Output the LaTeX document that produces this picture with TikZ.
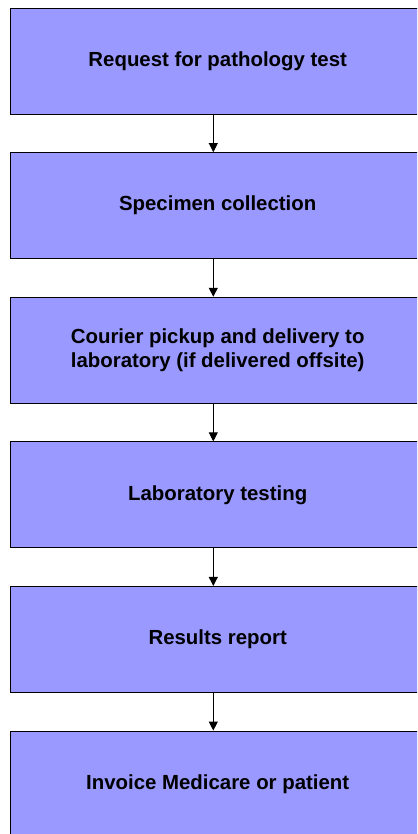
\documentclass[tikz,border=0pt]{standalone}
\usepackage{fontspec}
\setmainfont{Liberation Sans}
\usetikzlibrary{arrows.meta}
\definecolor{boxfill}{HTML}{9999FF}
\tikzset{
  stage/.style={draw=black, line width=0.9pt, fill=boxfill, rectangle,
    minimum width=414pt, minimum height=106pt, inner sep=0pt,
    align=center, text=black,
    font=\fontsize{20.4}{23.5}\selectfont\bfseries},
  flow/.style={draw=black, line width=0.9pt,
    -{Triangle[width=9pt,length=9pt]}}
}
\begin{document}
\begin{tikzpicture}[x=1pt,y=1pt]
\useasboundingbox (0,0) rectangle (417,-834);
\clip (0,0) rectangle (417,-834);
\node[stage] (req)  at (217.7,-61.0)  {Request for pathology test};
\node[stage] (spec) at (217.7,-205.6) {Specimen collection};
\node[stage] (cour) at (217.7,-350.2) {Courier pickup and delivery to\\laboratory (if delivered offsite)};
\node[stage] (lab)  at (217.7,-494.8) {Laboratory testing};
\node[stage] (res)  at (217.7,-639.4) {Results report};
\node[stage] (inv)  at (217.7,-784.0) {Invoice Medicare or patient};
\foreach \a/\b in {req/spec, spec/cour, cour/lab, lab/res, res/inv}
  \draw[flow] ([xshift=-4.4pt]\a.south) -- ([xshift=-4.4pt]\b.north);
\end{tikzpicture}
\end{document}
